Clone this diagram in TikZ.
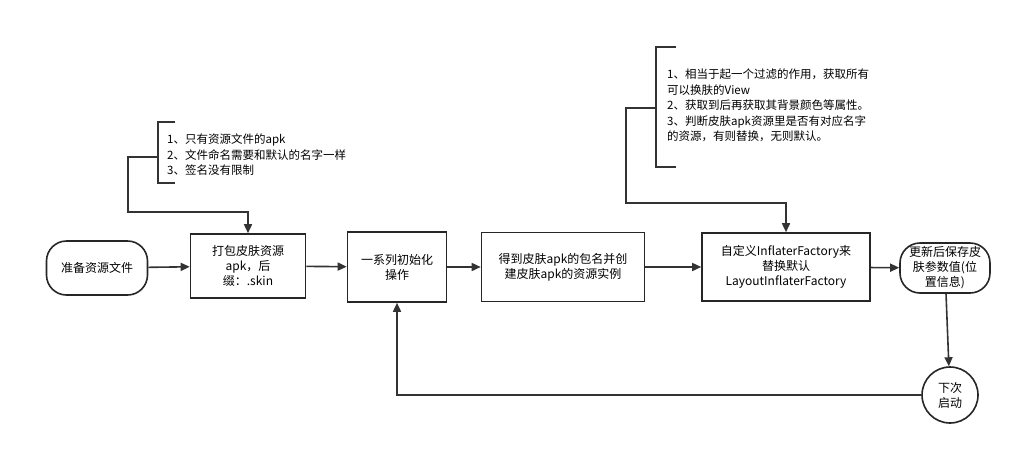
\documentclass[tikz,border=0pt]{standalone}
\usepackage{fontspec}
\setmainfont{Noto Sans CJK SC}
\usetikzlibrary{arrows.meta}
\tikzset{
  stepbox/.style={draw=black!85,line width=1.6pt,fill=white,align=center,font=\fontsize{12}{15}\selectfont,inner sep=0pt},
  roundbox/.style={stepbox,rounded corners=20pt},
  link/.style={draw=black!80,line width=1.6pt,-{Triangle[length=9pt,width=8pt]}},
  brace/.style={draw=black!80,line width=1.4pt},
  note/.style={align=left,anchor=north west,font=\fontsize{11.5}{15.5}\selectfont,inner sep=0pt}
}
\begin{document}
\begin{tikzpicture}[x=1pt,y=-1pt]
\useasboundingbox[fill=white] (0,0) rectangle (1032,453);
% boxes
\node[roundbox,minimum width=101pt,minimum height=54pt] (prep) at (97,268) {准备资源文件};
\node[stepbox,minimum width=115pt,minimum height=64pt] (pack) at (248,266) {打包皮肤资源\\apk，后\\缀：.skin};
\node[stepbox,minimum width=99pt,minimum height=70pt] (init) at (397,267) {一系列初始化\\操作};
\node[stepbox,minimum width=163pt,minimum height=69pt] (inst) at (563,267) {得到皮肤apk的包名并创\\建皮肤apk的资源实例};
\node[stepbox,minimum width=168pt,minimum height=68pt] (fact) at (786,267) {自定义InflaterFactory来\\替换默认\\LayoutInflaterFactory};
\node[roundbox,minimum width=90pt,minimum height=50pt] (save) at (945,268) {更新后保存皮\\肤参数值(位\\置信息)};
\node[stepbox,circle,minimum size=56pt] (next) at (950,395) {下次\\启动};
% notes
\draw[brace] (175,122) -- (158,122) -- (158,183) -- (175,183);
\node[note] (noteA) at (167,134) {1、只有资源文件的apk\\2、文件命名需要和默认的名字一样\\3、签名没有限制};
\draw[brace] (676,47) -- (656,47) -- (656,167) -- (676,167);
\node[note] (noteB) at (667,69) {1、相当于起一个过滤的作用，获取所有\\可以换肤的View\\2、获取到后再获取其背景颜色等属性。\\3、判断皮肤apk资源里是否有对应名字\\的资源，有则替换，无则默认。};
\coordinate (tapA) at (158,157);
\coordinate (tapB) at (656,108);
% links
\draw[link] (prep) -- (pack);
\draw[link] (pack) -- (init);
\draw[link] (init) -- (inst);
\draw[link] (inst) -- (fact);
\draw[link] (fact) -- (save);
\draw[link] (save) -- (next);
\draw[link] (next.west) -| (init.south);
\draw[link] (tapA) -- (128,157) -- (128,212) -| (pack.north);
\draw[link] (tapB) -- (626,108) -- (626,203) -| (fact.north);
\end{tikzpicture}
\end{document}
